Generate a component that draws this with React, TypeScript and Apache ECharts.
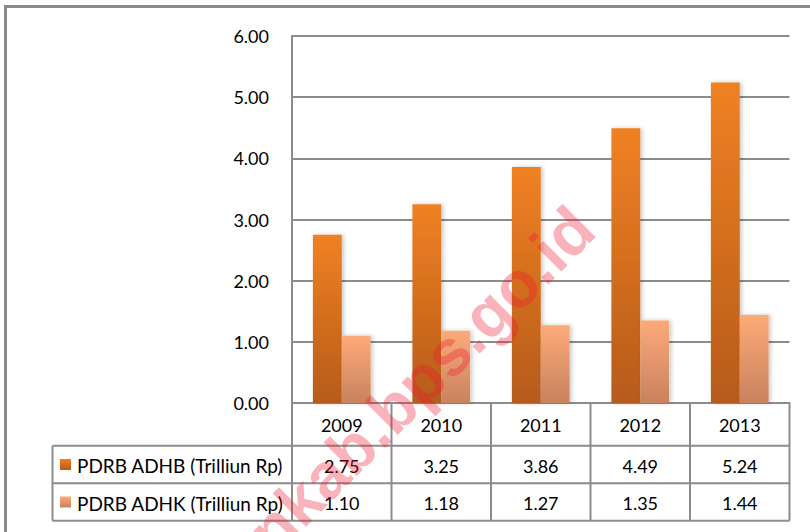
import React, { useEffect, useRef } from "react";
import * as echarts from "echarts";

const years = ["2009", "2010", "2011", "2012", "2013"];
const adhb = [2.75, 3.25, 3.86, 4.49, 5.24];
const adhk = [1.1, 1.18, 1.27, 1.35, 1.44];
const seriesNames = ["PDRB ADHB (Trilliun Rp)", "PDRB ADHK (Trilliun Rp)"];
const watermark = "nkab.bps.go.id";

export default function App() {
  const ref = useRef<HTMLDivElement>(null);
  useEffect(() => {
    const chart = echarts.init(ref.current!, null, { renderer: "svg" });
    const FONT = "Lato";
    const LINE = "#8c8c8c";
    const grad = (a: string, b: string) =>
      new echarts.graphic.LinearGradient(0, 0, 0, 1, [
        { offset: 0, color: a },
        { offset: 1, color: b },
      ]);
    const colorsTop = ["#F08122", "#FDAA78"];
    const colorsBot = ["#B65B1A", "#C8825E"];
    const shadow = { shadowBlur: 4, shadowOffsetX: 2, shadowColor: "rgba(0,0,0,0.22)" };
    const seriesData = [adhb, adhk];
    chart.setOption({
      animation: false,
      grid: { left: 292, right: 20.5, top: 36, bottom: 129, containLabel: false, outerBoundsMode: "none" },
      xAxis: {
        type: "category",
        data: years,
        axisLabel: { show: false },
        axisTick: { show: false },
        axisLine: { show: true, lineStyle: { color: LINE, width: 2 } },
      },
      yAxis: {
        type: "value",
        min: 0,
        max: 6,
        interval: 1,
        axisLabel: {
          formatter: (v: number) => v.toFixed(2),
          fontFamily: FONT,
          fontSize: 18,
          color: "#000",
          margin: 23,
        },
        axisLine: { show: true, lineStyle: { color: LINE, width: 2 } },
        axisTick: { show: false },
        splitLine: { lineStyle: { color: LINE, width: 2 } },
      },
      series: seriesData.map((d, i) => ({
        type: "bar",
        name: seriesNames[i],
        data: d,
        barWidth: "29%",
        barGap: "0%",
        itemStyle: { color: grad(colorsTop[i], colorsBot[i]), ...shadow },
      })),
    });

    // Data table built from the axis scale positions
    const c0 = chart.convertToPixel({ xAxisIndex: 0 }, years[0]) as number;
    const c1 = chart.convertToPixel({ xAxisIndex: 0 }, years[1]) as number;
    const cw = c1 - c0;
    const y0 = chart.convertToPixel({ yAxisIndex: 0 }, 0) as number;
    const xL = c0 - cw / 2;
    const xR = xL + cw * years.length;
    const rows = [y0, y0 + 42.7, y0 + 80.3, y0 + 117.7];
    const legX = 52.5;
    const els: any[] = [];
    const line = (x1: number, y1: number, x2: number, y2: number) =>
      els.push({ type: "line", shape: { x1, y1, x2, y2 }, style: { stroke: LINE, lineWidth: 2 }, z: 50 });
    const txt = (text: string, x: number, y: number, align: string, size = 18) =>
      els.push({
        type: "text",
        x,
        y,
        style: {
          text,
          fontFamily: FONT,
          fontSize: size,
          fill: "#000",
          align,
          textAlign: align,
          verticalAlign: "middle",
          textVerticalAlign: "middle",
        },
        z: 51,
      });
    // horizontal lines
    line(legX, rows[1], xR, rows[1]);
    line(legX, rows[2], xR, rows[2]);
    line(legX, rows[3], xR, rows[3]);
    // vertical lines
    for (let i = 0; i <= years.length; i++) {
      const x = xL + cw * i;
      line(x, y0, x, rows[3]);
    }
    line(legX, rows[1], legX, rows[3]);
    // header + values
    years.forEach((yr, i) => {
      const cx = chart.convertToPixel({ xAxisIndex: 0 }, yr) as number;
      txt(yr, cx, (rows[0] + rows[1]) / 2 + 1, "center");
      seriesData.forEach((d, s) => {
        txt(d[i].toFixed(2), cx, (rows[s + 1] + rows[s + 2]) / 2 + 1, "center");
      });
    });
    // legend cells
    seriesNames.forEach((n, s) => {
      const cy = (rows[s + 1] + rows[s + 2]) / 2;
      els.push({
        type: "rect",
        shape: { x: 60, y: cy - 5.5, width: 11, height: 11 },
        style: { fill: grad(colorsTop[s], colorsBot[s]) },
        z: 51,
      });
      txt(n, 77, cy + 1, "left", 19);
    });
    // outer frame
    els.push({
      type: "rect",
      shape: { x: 5.5, y: 6.5, width: 900, height: 900 },
      style: { fill: "none", stroke: "#8a8a8a", lineWidth: 3 },
      z: 52,
    });
    // watermark
    els.push({
      type: "text",
      x: 583,
      y: 218,
      rotation: Math.PI / 4,
      style: {
        text: watermark,
        fontFamily: "Liberation Sans",
        fontWeight: "bold",
        fontSize: 65,
        fill: "rgba(240,20,50,0.33)",
        align: "right",
        textAlign: "right",
        verticalAlign: "middle",
        textVerticalAlign: "middle",
      },
      z: 100,
    });
    chart.setOption({ graphic: { elements: els } });
    return () => chart.dispose();
  }, []);
  return (
    <div
      ref={ref}
      style={{ position: "absolute", left: 0, top: 0, width: 810, height: 532, background: "#fff" }}
    />
  );
}
